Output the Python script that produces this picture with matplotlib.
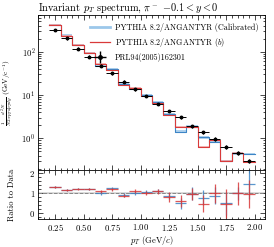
import numpy as np
import matplotlib
matplotlib.use("Agg")
import matplotlib.pyplot as plt
from matplotlib.lines import Line2D

plt.rcParams['font.family'] = 'serif'
plt.rcParams['font.serif'] = ['cmr10', 'DejaVu Serif']
plt.rcParams['mathtext.fontset'] = 'cm'
plt.rcParams['axes.formatter.use_mathtext'] = True
plt.rcParams['axes.unicode_minus'] = True

# bins in pT (GeV/c)
bin_edges = [0.2, 0.3, 0.4, 0.5, 0.6, 0.7, 0.8, 0.9, 1.0, 1.1, 1.2,
             1.3, 1.4, 1.5, 1.6, 1.7, 1.8, 1.9, 2.0]

# PRL94(2005)162301 data
data_y = [317, 204, 117, 77, 48, 31.6, 20.3, 13.5, 9.5, 6.2, 4.3,
          3.05, 1.92, 1.38, 0.96, 0.64, 0.46, 0.30]
data_err = [22, 14, 8, 5, 3.3, 2.2, 1.4, 0.95, 0.7, 0.45, 0.32,
            0.24, 0.16, 0.12, 0.09, 0.06, 0.05, 0.035]

# ratios model / data
ratio_cal = [1.30, 1.15, 1.22, 1.22, 1.00, 1.23, 0.90, 1.02, 1.03, 1.10, 0.85,
             0.47, 0.97, 0.77, 0.87, 0.47, 0.98, 1.47]
ratio_cal_err = [0.05, 0.04, 0.04, 0.05, 0.08, 0.08, 0.08, 0.1, 0.1, 0.12, 0.15,
                 0.3, 0.35, 0.38, 0.42, 0.6, 0.35, 0.8]
ratio_b = [1.30, 1.14, 1.21, 1.20, 1.08, 1.18, 0.86, 1.10, 0.99, 1.08, 0.81,
           0.59, 0.95, 0.46, 0.98, 0.46, 0.98, 0.96]
ratio_b_err = [0.05, 0.04, 0.04, 0.05, 0.08, 0.08, 0.08, 0.1, 0.1, 0.13, 0.25,
               0.3, 0.33, 0.45, 0.5, 0.75, 0.6, 0.7]

labels = ['PYTHIA 8.2/ANGANTYR (Calibrated)', 'PYTHIA 8.2/ANGANTYR ($b$)',
          'PRL94(2005)162301']

edges = np.array(bin_edges)
centers = 0.5 * (edges[1:] + edges[:-1])
xerr = 0.5 * np.diff(edges)
data = np.array(data_y)
cal = data * np.array(ratio_cal)
bb = data * np.array(ratio_b)

blue, blue_l = '#3d85c6', '#9cc7ea'
red, red_l = '#d93a3a', '#f2a7a7'

fig = plt.figure(figsize=(2.74, 2.47), dpi=100)
gs = fig.add_gridspec(2, 1, height_ratios=[3.16, 1], hspace=0,
                      left=0.139, right=0.967, top=0.939, bottom=0.113)
ax = fig.add_subplot(gs[0])
rax = fig.add_subplot(gs[1], sharex=ax)


def step_band(a, y, rel, col, colb, lw):
    yy = np.append(y, y[-1])
    a.fill_between(edges, yy * (1 - rel), yy * (1 + rel), step='post',
                   color=colb, alpha=0.8, lw=0)
    a.step(edges, yy, where='post', color=col, lw=lw)


step_band(ax, cal, 0.07, blue, blue_l, 0.8)
step_band(ax, bb, 0.05, red, red_l, 0.8)
ax.errorbar(centers, data, yerr=data_err, xerr=xerr, fmt='o', color='black',
            ms=1.8, elinewidth=0.7, capsize=0)

ax.set_yscale('log')
ax.set_ylim(0.186, 700)
ax.set_xlim(0.1, 2.09)
ax.set_title(r'Invariant $p_T$ spectrum, $\pi^-$ $-0.1<y<0$', loc='left',
             fontsize=7.4, pad=2)
ax.set_ylabel(r'$\frac{1}{N}\frac{d^2N}{2\pi p_T dp_T dy}$ (GeV/c$^{-1}$)',
              fontsize=5.2)

handles = [Line2D([], [], color=blue_l, lw=2),
           Line2D([], [], color=red, lw=0.9),
           (Line2D([], [], ls='none', marker='+', ms=8, mew=1.0, color='black'),
            Line2D([], [], ls='none', marker='o', ms=2.5, color='black'))]
ax.legend(handles, labels, loc='upper right', fontsize=5.75, frameon=False,
          handlelength=2.6, labelspacing=0.5, borderaxespad=0.4,
          handletextpad=0.6, bbox_to_anchor=(1.0, 0.99))

# ratio panel
rax.axhspan(0.97, 1.03, color='#cccccc', alpha=0.7, lw=0)
rax.axhline(1, color='#888888', ls='--', lw=0.7)
rax.errorbar(centers, ratio_cal, yerr=ratio_cal_err, xerr=xerr, fmt='none',
             ecolor=blue, elinewidth=0.9, alpha=0.85)
rax.errorbar(centers, ratio_b, yerr=ratio_b_err, xerr=xerr, fmt='none',
             ecolor=red, elinewidth=0.9, alpha=0.85)
rax.set_ylim(-0.33, 2.17)
rax.set_yticks([0, 1, 2])
rax.set_ylabel('Ratio to Data', fontsize=6.1)
rax.set_xlabel(r'$p_T$ (GeV/$c$)', fontsize=6.1, labelpad=1)
rax.set_xticks([0.25, 0.5, 0.75, 1.0, 1.25, 1.5, 1.75, 2.0])

for a in (ax, rax):
    a.minorticks_on()
    a.tick_params(which='both', direction='in', top=True, right=True,
                  labelsize=6.3, width=0.5, pad=2)
    a.tick_params(which='major', length=3.5)
    a.tick_params(which='minor', length=1.8)
    for s in a.spines.values():
        s.set_linewidth(0.6)
ax.tick_params(labelbottom=False)
fig.align_ylabels([ax, rax])

fig.savefig('out.png', dpi=100)
